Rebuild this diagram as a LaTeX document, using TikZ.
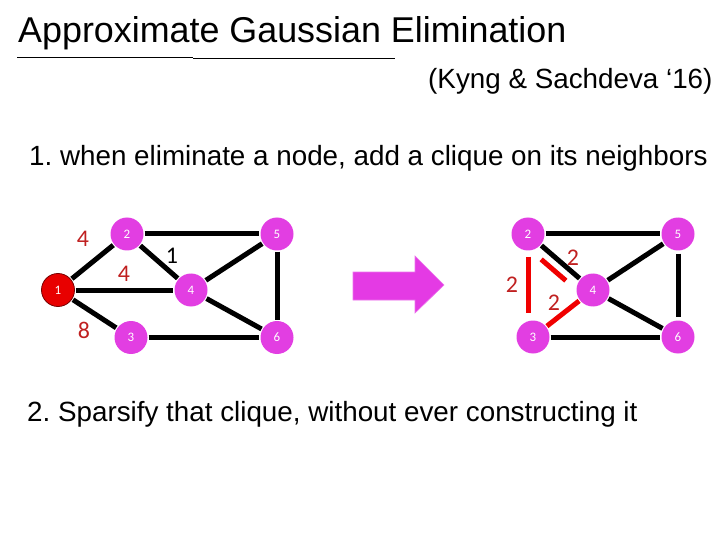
\documentclass[tikz,border=0pt]{standalone}
\usepackage{fontspec}
\setmainfont{Liberation Sans}
\newfontfamily\vertexfont{Carlito}
\usepackage{tikz}
\usetikzlibrary{calc}
\frenchspacing
\definecolor{ageVertexFill}{RGB}{226,62,226}
\definecolor{ageElimFill}{RGB}{232,0,0}
\definecolor{ageElimLine}{RGB}{120,0,0}
\definecolor{ageWeight}{RGB}{192,32,32}
\definecolor{ageClique}{RGB}{240,0,0}
\definecolor{ageArrowFill}{RGB}{228,58,228}
\tikzset{
  vertex/.style={circle, fill=ageVertexFill, minimum size=33bp, inner sep=0pt,
    text=white, font=\vertexfont\fontsize{13}{13}\selectfont},
  elimvertex/.style={vertex, fill=ageElimFill, draw=ageElimLine, line width=0.8bp},
  graphedge/.style={draw=black, line width=5bp, shorten <=1bp, shorten >=1bp},
  cliqueedge/.style={draw=ageClique, line width=5bp},
  weightlabel/.style={font=\vertexfont\fontsize{24}{24}\selectfont, text=ageWeight, inner sep=0pt},
  plainweight/.style={weightlabel, text=black},
  titletext/.style={anchor=base west, inner sep=0pt, font=\fontsize{36}{40}\selectfont},
  bodytext/.style={anchor=base west, inner sep=0pt, font=\fontsize{27.9}{32}\selectfont},
  ruleline/.style={draw=black, line width=1.5bp},
  blockarrow/.style={fill=ageArrowFill, draw=ageArrowFill!70!white, line width=0.6bp},
}
\begin{document}
\begin{tikzpicture}[x=1bp,y=-1bp]
  \useasboundingbox (0,0) rectangle (720,540);

  % --- Heading and citation ---
  \node[titletext] (title) at (18,43) {Approximate Gaussian Elimination};
  \draw[ruleline] (17,57.7) -- (193,57.7);
  \draw[ruleline] (193,58.7) -- (395,58.7);
  \node[bodytext] (cite) at (428,89) {(Kyng \& Sachdeva ‘16)};
  \node[bodytext] (stepone) at (29,166) {1. when eliminate a node, add a clique on its neighbors};
  \node[bodytext] (steptwo) at (27,421) {2. Sparsify that clique, without ever constructing it};

  % --- Graph before elimination ---
  \node[elimvertex] (l1) at (58,290) {1};
  \node[vertex] (l2) at (127,234) {2};
  \node[vertex] (l3) at (131,337.5) {3};
  \node[vertex] (l4) at (191,290) {4};
  \node[vertex] (l5) at (277,234) {5};
  \node[vertex] (l6) at (277,337.5) {6};

  \draw[graphedge] (l1) -- (l2);
  \draw[graphedge] (l1) -- (l4);
  \draw[graphedge] (l1) -- (l3);
  \draw[graphedge] (l2) -- (l4);
  \draw[graphedge] (l2) -- (l5);
  \draw[graphedge] (l4) -- (l5);
  \draw[graphedge] (l4) -- (l6);
  \draw[graphedge] (l5) -- (l6);
  \draw[graphedge] (l3) -- (l6);

  \node[weightlabel] (w12) at (83,239) {4};
  \node[weightlabel] (w14) at (124,274) {4};
  \node[plainweight] (w24) at (172,256) {1};
  \node[weightlabel] (w13) at (84,330) {8};

  % --- Block arrow ---
  \fill[blockarrow] (353,272) -- (415,272) -- (415,256) -- (444,285)
    -- (415,313) -- (415,300) -- (353,300) -- cycle;

  % --- Graph after elimination ---
  \node[vertex] (r2) at (528,234) {2};
  \node[vertex] (r3) at (533,337) {3};
  \node[vertex] (r4) at (593,290) {4};
  \node[vertex] (r5) at (678,234) {5};
  \node[vertex] (r6) at (678,337) {6};

  \draw[graphedge] (r2) -- (r5);
  \draw[graphedge] (r2) -- (r4);
  \draw[graphedge] (r4) -- (r5);
  \draw[graphedge] (r4) -- (r6);
  \draw[graphedge, shorten <=3bp, shorten >=3bp] (r5) -- (r6);
  \draw[graphedge] (r3) -- (r6);

  % --- Clique on the neighbours ---
  \draw[cliqueedge, shorten <=6bp, shorten >=7bp] (r2.south) -- (r2 |- r3.north);
  \draw[cliqueedge] ($(r2)!0.31!(r4) + (-7,8)$) -- ($(r2)!0.69!(r4) + (-7,8)$);
  \draw[cliqueedge, shorten <=1bp, shorten >=1bp] (r3) -- (r4);

  \node[weightlabel] (c24) at (573,258) {2};
  \node[weightlabel] (c23) at (512,285) {2};
  \node[weightlabel] (c34) at (554,303) {2};
\end{tikzpicture}
\end{document}
